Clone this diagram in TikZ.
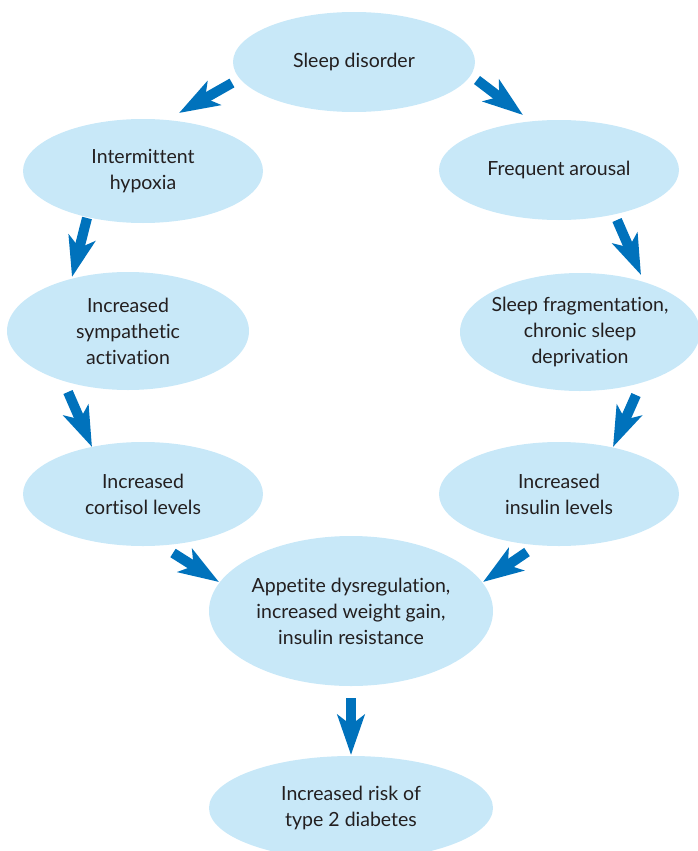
\documentclass[tikz,border=0pt]{standalone}
\usepackage{fontspec}
\setmainfont{Lato}[Ligatures={NoCommon,NoRare}]
\usetikzlibrary{arrows.meta,shapes.geometric}
\definecolor{bubble}{HTML}{C8E8F8}
\definecolor{arrowblue}{HTML}{0072BC}
\definecolor{ink}{HTML}{231F20}
\tikzset{
  bubble/.style={ellipse, fill=bubble, inner sep=0pt, text=ink, align=center,
                 font=\fontsize{19.5}{26}\selectfont},
  bigarrow/.style={draw=arrowblue, line width=10pt,
                   -{Stealth[length=40pt, width=27pt, inset=10pt, fill=arrowblue]}}
}
\begin{document}
\begin{tikzpicture}[x=1pt, y=-1pt]
                    \useasboundingbox (0,0) rectangle (698,851);
                    \node [bubble, minimum width=242pt, minimum height=100pt] (sd) at (354,62) {Sleep disorder};
                    \node [bubble, minimum width=240pt, minimum height=104pt] (ih) at (143,171) {Intermittent\\hypoxia};
                    \node [bubble, minimum width=240pt, minimum height=100pt] (fa) at (559,170) {Frequent arousal};
                    \node [bubble, minimum width=242pt, minimum height=118pt] (sa) at (128,331) {Increased\\sympathetic\\activation};
                    \node [bubble, minimum width=240pt, minimum height=118pt, inner xsep=-10pt, inner ysep=-6pt] (sf) at (580,332) {Sleep fragmentation,\\chronic sleep\\deprivation};
                    \node [bubble, minimum width=240pt, minimum height=104pt] (cl) at (143,494) {Increased\\cortisol levels};
                    \node [bubble, minimum width=240pt, minimum height=104pt] (il) at (559,494) {Increased\\insulin levels};
                    \node [bubble, minimum width=284pt, minimum height=150pt, inner xsep=-6pt] (ad) at (351,611) {Appetite dysregulation,\\increased weight gain,\\insulin resistance};
                    \node [bubble, minimum width=284pt, minimum height=104pt] (rd) at (351,808) {Increased risk of\\type 2 diabetes};
                    % arrows between the bubbles
                    \draw [bigarrow] ([shift={(-122,21)}]sd.center) -- ([shift={(36,-58)}]ih.center);
                    \draw [bigarrow] ([shift={(123,18)}]sd.center) -- ([shift={(-36,-55)}]fa.center);
                    \draw [bigarrow] ([shift={(-56,47)}]ih.center) -- ([shift={(-56,-54)}]sa.center);
                    \draw [bigarrow] ([shift={(58,50)}]fa.center) -- ([shift={(61,-57)}]sf.center);
                    \draw [bigarrow] ([shift={(-60,61)}]sa.center) -- ([shift={(-51,-47)}]cl.center);
                    \draw [bigarrow] ([shift={(56,63)}]sf.center) -- ([shift={(54,-47)}]il.center);
                    \draw [bigarrow] ([shift={(30,59)}]cl.center) -- ([shift={(-132,-29)}]ad.center);
                    \draw [bigarrow] ([shift={(-32,58)}]il.center) -- ([shift={(132,-29)}]ad.center);
                    \draw [bigarrow] ([shift={(0,87)}]ad.center) -- ([shift={(0,-53)}]rd.center);
\end{tikzpicture}
\end{document}
